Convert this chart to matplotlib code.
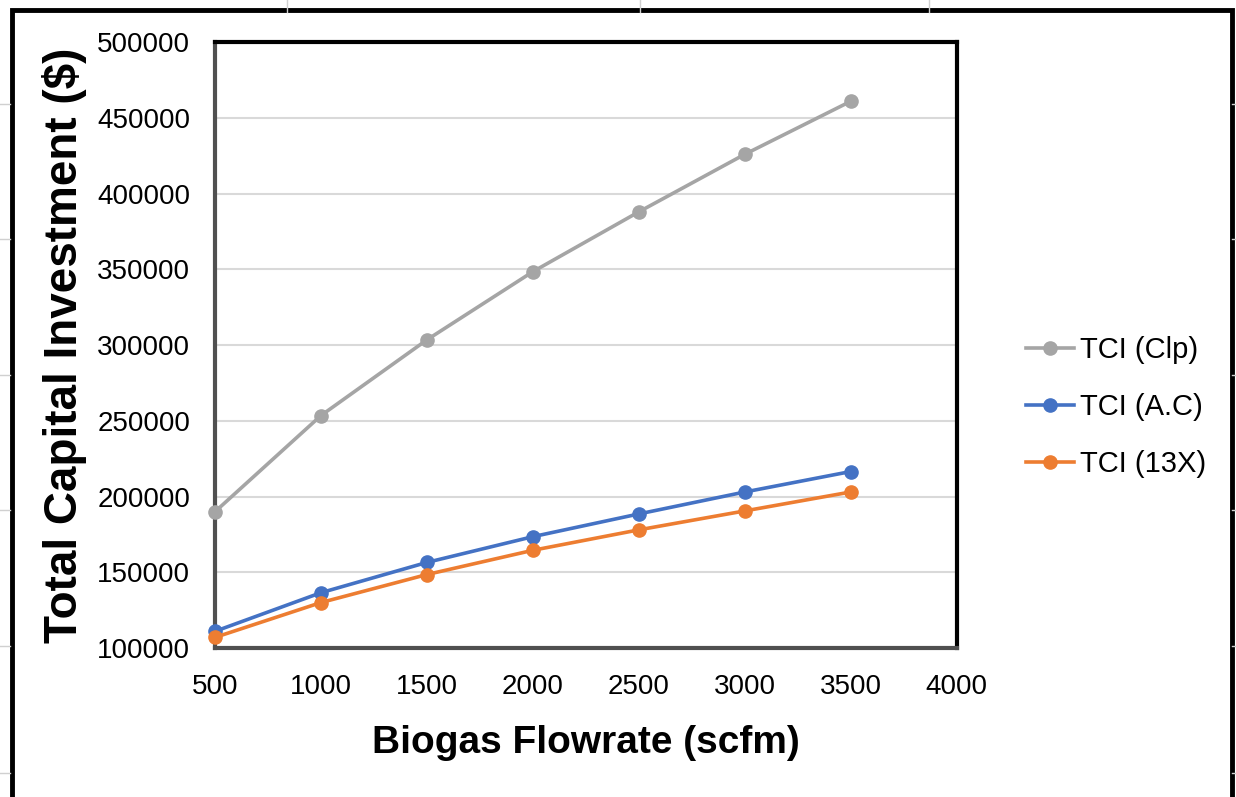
import matplotlib.pyplot as plt
from matplotlib.patches import Rectangle

plt.rcParams['font.family'] = ['Liberation Sans', 'DejaVu Sans']

# biogas flowrate (scfm)
flowrate = [500, 1000, 1500, 2000, 2500, 3000, 3500]

# total capital investment ($)
tci_clp = [190000, 253500, 303500, 348500, 388000, 426000, 461000]
tci_ac = [111000, 136500, 156500, 173500, 188500, 203000, 216500]
tci_13x = [107000, 130000, 148500, 164500, 178000, 190500, 203000]

series_names = ['TCI (Clp)', 'TCI (A.C)', 'TCI (13X)']
colors = ['#A5A5A5', '#4472C4', '#ED7D31']

x_ticks = [500, 1000, 1500, 2000, 2500, 3000, 3500, 4000]
y_ticks = [100000, 150000, 200000, 250000, 300000, 350000, 400000, 450000, 500000]

fig = plt.figure(figsize=(12.36, 7.97), dpi=100)

# faint spreadsheet grid behind the chart object
for xx in [0.232, 0.518, 0.752]:
    fig.add_artist(plt.Line2D([xx, xx], [0.985, 1.0], color='#d0d0d0', lw=1))
for yy in [0.87, 0.70, 0.53, 0.36, 0.19, 0.03]:
    fig.add_artist(plt.Line2D([0, 0.008], [yy, yy], color='#d0d0d0', lw=1))
    fig.add_artist(plt.Line2D([0.997, 1.0], [yy, yy], color='#d0d0d0', lw=1))

# thick black chart-area border
fig.add_artist(Rectangle((0.0095, -0.02), 0.987, 1.008, transform=fig.transFigure,
                         fill=False, edgecolor='black', lw=3.5))

ax = fig.add_axes([0.174, 0.187, 0.600, 0.760])

for vals, name, c in zip([tci_clp, tci_ac, tci_13x], series_names, colors):
    ax.plot(flowrate, vals, color=c, lw=2.6, marker='o', markersize=9.5,
            label=name, clip_on=False, zorder=3)

ax.set_xlim(500, 4000)
ax.set_ylim(100000, 500000)
ax.set_xticks(x_ticks)
ax.set_yticks(y_ticks)
ax.set_xticklabels([str(v) for v in x_ticks], fontsize=20)
ax.set_yticklabels([str(v) for v in y_ticks], fontsize=20)

ax.grid(axis='y', color='#d9d9d9', lw=1.5)
ax.set_axisbelow(True)
ax.tick_params(axis='both', length=0)
ax.tick_params(axis='x', pad=19)
ax.tick_params(axis='y', pad=18)

for side in ['top', 'right']:
    ax.spines[side].set_linewidth(3)
    ax.spines[side].set_color('black')
for side in ['left', 'bottom']:
    ax.spines[side].set_linewidth(3)
    ax.spines[side].set_color('#505050')

ax.set_xlabel('Biogas Flowrate (scfm)', fontsize=28, fontweight='bold', labelpad=18)
ax.set_ylabel('Total Capital Investment ($)', fontsize=33, fontweight='bold', labelpad=7)

leg = fig.legend(loc='center left', bbox_to_anchor=(0.818, 0.489), frameon=False,
                 borderpad=0, fontsize=21, handlelength=1.65, handletextpad=0.2,
                 labelspacing=1.0)

fig.savefig('out.png', dpi=100)
